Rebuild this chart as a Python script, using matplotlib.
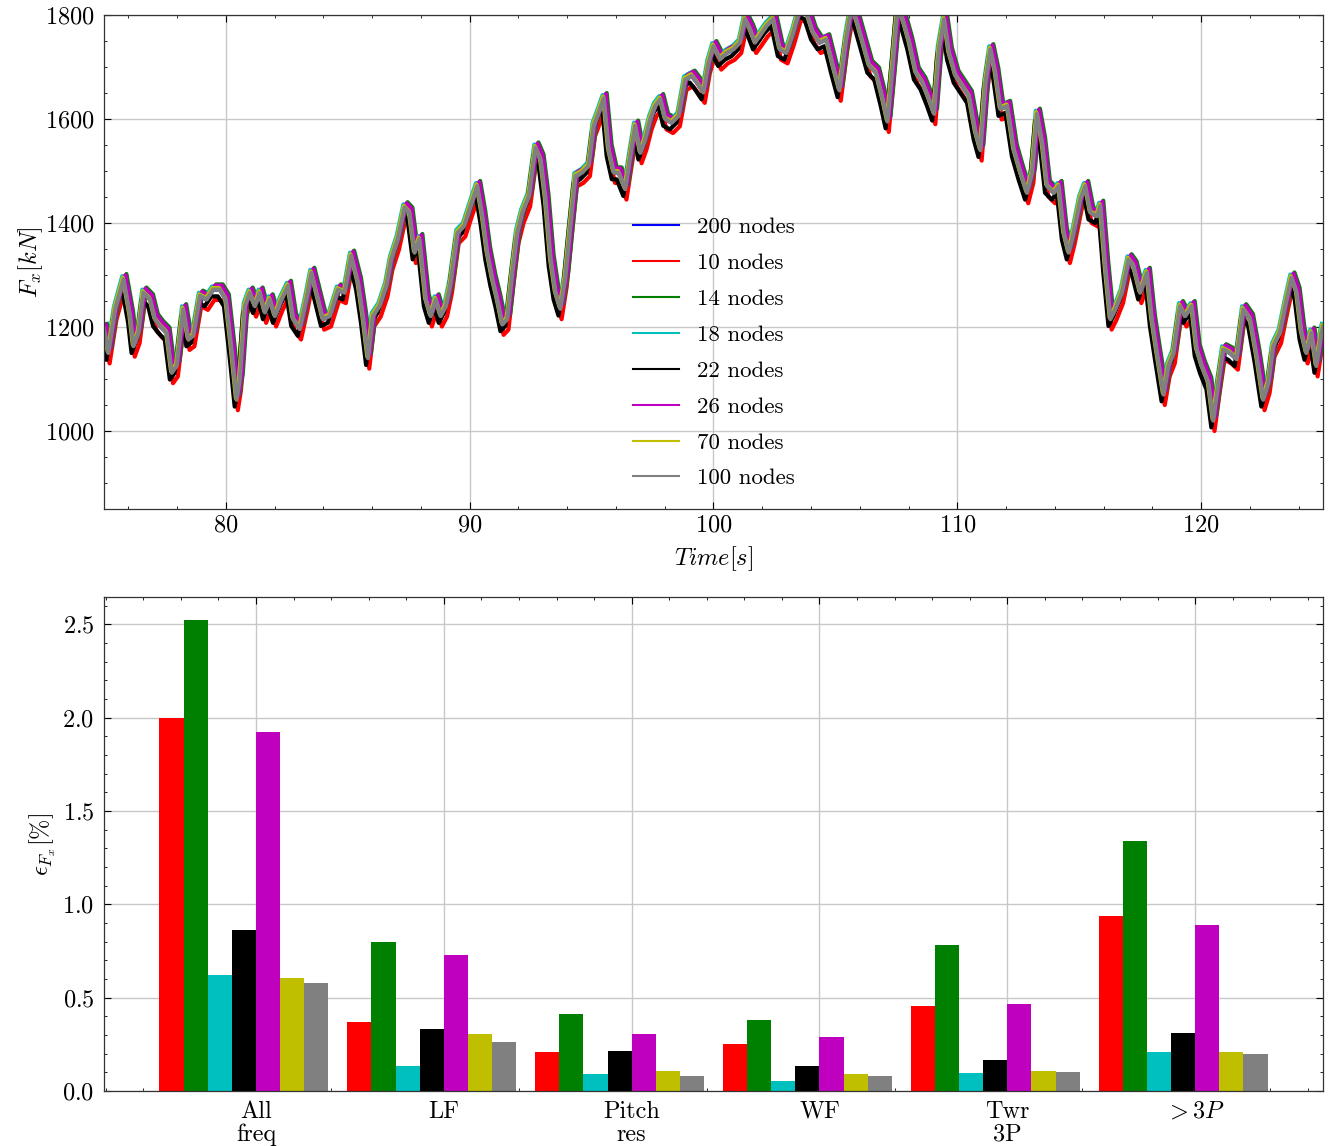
import numpy as np
import matplotlib.pyplot as plt
from matplotlib.ticker import MultipleLocator

plt.rcParams['font.family'] = 'serif'
plt.rcParams['font.serif'] = ['cmr10']
plt.rcParams['mathtext.fontset'] = 'cm'
plt.rcParams['axes.formatter.use_mathtext'] = True
plt.rcParams['axes.unicode_minus'] = False

# time series (approximate centre of the bundle)
time = [75.00, 75.18, 75.46, 75.80, 76.07, 76.21, 76.41, 76.62, 76.89, 77.09,
        77.30, 77.57, 77.78, 77.98, 78.25, 78.46, 78.66, 78.94, 79.21, 79.48,
        79.75, 80.00, 80.23, 80.44, 80.57, 80.78, 80.98, 81.19, 81.39, 81.60,
        81.80, 82.01, 82.28, 82.55, 82.76, 83.03, 83.30, 83.51, 83.71, 83.98,
        84.26, 84.60, 84.87, 85.14, 85.42, 85.62, 85.83, 86.03, 86.30, 86.58,
        86.78, 87.05, 87.33, 87.53, 87.74, 87.94,
        88.20, 88.40, 88.61, 88.81, 89.02, 89.22, 89.50, 89.77, 90.04, 90.31,
        90.52, 90.72, 90.93, 91.13, 91.34, 91.54, 91.75, 91.95, 92.16, 92.43,
        92.70, 92.91, 93.11, 93.32, 93.52, 93.72, 93.93, 94.13, 94.34, 94.61,
        94.88, 95.09, 95.29, 95.50, 95.70, 95.91, 96.11, 96.38, 96.59, 96.79,
        97.00, 97.20, 97.41, 97.61, 97.82, 98.02, 98.29, 98.57, 98.84, 99.11,
        99.32, 99.59, 99.80, 100.00,
        100.27, 100.54, 100.82, 101.09, 101.29, 101.50, 101.70, 101.90, 102.18, 102.45,
        102.72, 102.99, 103.27, 103.54, 103.81, 104.08, 104.35, 104.63, 104.90, 105.17,
        105.44, 105.65, 105.85, 106.12, 106.39, 106.67, 106.94, 107.14, 107.35, 107.55,
        107.76, 108.03, 108.30, 108.57, 108.84, 109.05, 109.25, 109.46, 109.66, 109.93,
        110.20, 110.48, 110.75, 110.95, 111.16, 111.36, 111.56, 111.77,
        112.05, 112.32, 112.59, 112.86, 113.07, 113.27, 113.48, 113.68, 113.96, 114.16,
        114.37, 114.57, 114.77, 115.05, 115.25, 115.46, 115.73, 115.87, 116.07, 116.28,
        116.48, 116.75, 117.03, 117.23, 117.50, 117.78, 117.98, 118.19, 118.46, 118.66,
        118.87, 119.14, 119.35, 119.62, 119.82, 120.03, 120.30, 120.50, 120.71, 120.91,
        121.19, 121.46, 121.73, 122.01, 122.28, 122.55, 122.76, 122.96, 123.23, 123.51,
        123.71, 123.92, 124.12, 124.32, 124.53, 124.73, 124.94, 125.00]

fx_ref = [1196, 1150, 1234, 1292, 1221, 1163, 1189, 1266, 1253, 1215,
          1202, 1189, 1112, 1125, 1234, 1176, 1183, 1260, 1253, 1272,
          1272, 1253, 1157, 1060, 1099, 1240, 1266, 1240, 1266, 1228,
          1253, 1221, 1253, 1279, 1215, 1196, 1253, 1304, 1266, 1215,
          1221, 1272, 1266, 1337, 1285, 1221, 1140, 1221, 1240, 1279,
          1330, 1369, 1430, 1420, 1343, 1369,
          1253, 1221, 1253, 1221, 1240, 1285, 1381, 1394, 1433, 1471,
          1413, 1343, 1292, 1253, 1205, 1215, 1304, 1381, 1420, 1452,
          1545, 1522, 1446, 1330, 1266, 1235, 1298, 1394, 1490, 1497,
          1510, 1587, 1612, 1640, 1541, 1497, 1497, 1465, 1529, 1587,
          1535, 1561, 1600, 1625, 1638, 1600, 1593, 1606, 1676, 1683,
          1670, 1651, 1708, 1740,
          1715, 1727, 1734, 1747, 1792, 1772, 1747, 1760, 1779, 1792,
          1734, 1727, 1766, 1811, 1805, 1766, 1747, 1753, 1702, 1655,
          1753, 1811, 1792, 1747, 1702, 1689, 1638, 1595, 1702, 1811,
          1792, 1747, 1689, 1670, 1638, 1610, 1734, 1792, 1727, 1683,
          1664, 1644, 1574, 1540, 1670, 1734, 1689, 1619,
          1625, 1541, 1497, 1458, 1497, 1610, 1555, 1471, 1458, 1471,
          1381, 1343, 1381, 1446, 1471, 1420, 1413, 1433, 1317, 1215,
          1234, 1266, 1330, 1317, 1266, 1304, 1215, 1150, 1070, 1125,
          1150, 1240, 1221, 1240, 1157, 1125, 1093, 1020, 1093, 1157,
          1150, 1138, 1234, 1215, 1144, 1060, 1093, 1163, 1189, 1253,
          1295, 1266, 1189, 1150, 1189, 1125, 1189, 1200]

# per-model deviation from the bundle centre, as seen in the coloured fringes
node_labels = ['200 nodes', '10 nodes', '14 nodes', '18 nodes', '22 nodes',
               '26 nodes', '70 nodes', '100 nodes']
line_colors = ['b', 'r', 'g', 'c', 'k', 'm', 'y', 'gray']
fx_shift = [0, -20, 10, 6, -13, 8, 3, 0]
t_shift = [0.0, 0.05, 0.12, -0.05, -0.08, 0.08, -0.03, 0.0]

# error per frequency band
bands = ['All\nfreq', 'LF', 'Pitch\nres', 'WF', 'Twr\n3P', r'$>3P$']
err_10 = [2.00, 0.37, 0.21, 0.25, 0.455, 0.935]
err_14 = [2.52, 0.80, 0.41, 0.38, 0.78, 1.34]
err_18 = [0.62, 0.135, 0.09, 0.055, 0.097, 0.21]
err_22 = [0.86, 0.33, 0.215, 0.135, 0.165, 0.31]
err_26 = [1.925, 0.73, 0.305, 0.29, 0.465, 0.89]
err_70 = [0.605, 0.305, 0.107, 0.09, 0.107, 0.21]
err_100 = [0.58, 0.26, 0.08, 0.08, 0.10, 0.198]

fs = 17.5

fig = plt.figure(figsize=(13.35, 11.46), dpi=100)
ax1 = fig.add_axes([0.0779, 0.5558, 0.9131, 0.4311])
ax2 = fig.add_axes([0.0779, 0.0480, 0.9131, 0.4311])

t = np.array(time)
f = np.array(fx_ref, dtype=float)
for lab, col, df, dt in zip(node_labels, line_colors, fx_shift, t_shift):
    ax1.plot(t + dt, f + df, color=col, lw=3.0, label=lab)

ax1.set_xlim(75, 125)
ax1.set_ylim(850, 1800)
ax1.xaxis.set_major_locator(MultipleLocator(10))
ax1.xaxis.set_minor_locator(MultipleLocator(2))
ax1.yaxis.set_major_locator(MultipleLocator(200))
ax1.yaxis.set_minor_locator(MultipleLocator(50))
ax1.set_xlabel(r'$Time [s]$', fontsize=fs, labelpad=6)
ax1.set_ylabel(r'$F_x [kN]$', fontsize=fs, labelpad=0)
leg = ax1.legend(loc='upper left', bbox_to_anchor=(0.417, 0.632), frameon=False,
                 fontsize=16.5, labelspacing=0.69)
for h in leg.get_lines():
    h.set_linewidth(1.5)

errs = [err_10, err_14, err_18, err_22, err_26, err_70, err_100]
w = 0.9 / 7
x = np.arange(len(bands))
for i, (e, col) in enumerate(zip(errs, line_colors[1:])):
    ax2.bar(x + (i - 4) * w, e, width=w, align='edge', color=col)

ax2.set_xticks(x)
ax2.set_xticklabels(bands, linespacing=1.05)
ax2.xaxis.set_minor_locator(MultipleLocator(0.2))
ax2.yaxis.set_major_locator(MultipleLocator(0.5))
ax2.yaxis.set_minor_locator(MultipleLocator(0.1))
ax2.set_ylabel(r'$\epsilon_{F_x} [\%]$', fontsize=fs, labelpad=3)

for ax in (ax1, ax2):
    ax.grid(True, color='#c8c8c8', lw=1.0)
    ax.set_axisbelow(True)
    ax.tick_params(which='both', direction='in', top=True, right=True,
                   labelsize=fs)
    ax.tick_params(axis='y', which='major', pad=7)
    ax.tick_params(which='major', length=5, width=0.8)
    ax.tick_params(which='minor', length=2.5, width=0.6)
    for s in ax.spines.values():
        s.set_linewidth(0.9)
        s.set_color('#333333')
ax2.tick_params(axis='x', which='major', pad=7)

fig.savefig('out.png', dpi=100)
